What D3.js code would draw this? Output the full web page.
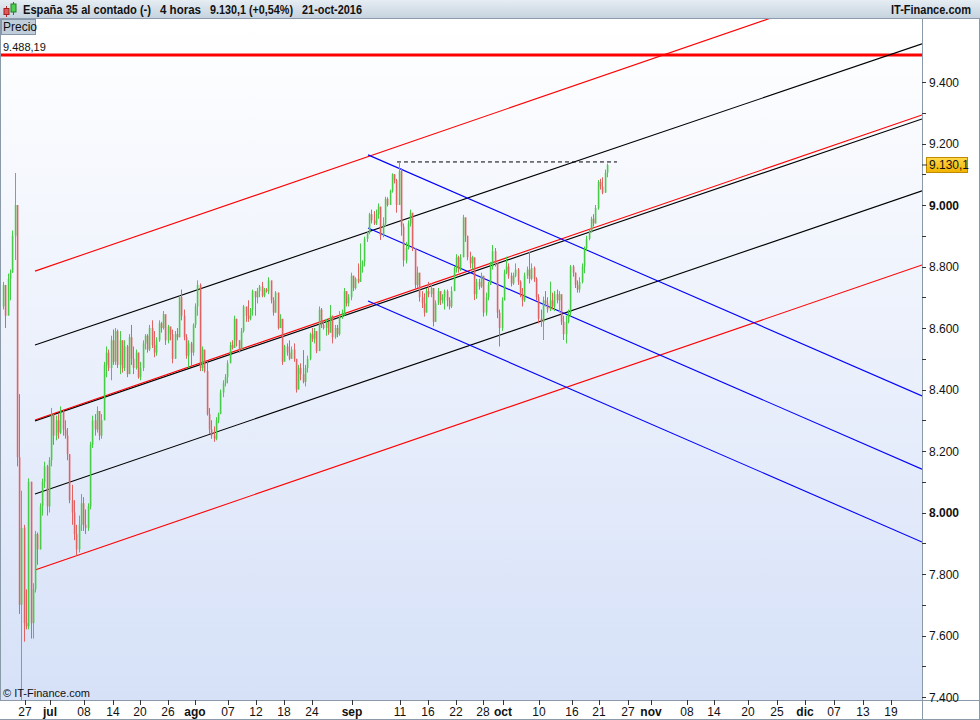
<!DOCTYPE html>
<html><head><meta charset="utf-8">
<script src="https://cdn.jsdelivr.net/npm/d3@7"></script>
<style>html,body{margin:0;padding:0;background:#fff;}svg{display:block;}</style>
</head><body>
<script>
// ---- data (4-hour candles, 22-jun-2016 .. 21-oct-2016), open = previous close ----
const firstOpen = 8670;
const closes = [8740,8640,8760,8780,8900,9000,8180,7700,7950,7640,7630,8100,7640,7750,7930,7880,8020,8100,8150,8020,
8170,8320,8250,8300,8260,8330,8270,8250,8190,8040,8000,7930,7880,7960,8030,7960,7950,8020,8220,8300,
8270,8330,8250,8300,8480,8520,8470,8560,8490,8590,8480,8560,8470,8540,8450,8570,8500,8470,8520,8440,
8470,8550,8575,8530,8600,8545,8520,8560,8615,8600,8645,8560,8605,8580,8500,8580,8570,8700,8640,8570,
8510,8550,8520,8610,8670,8740,8470,8530,8460,8320,8270,8250,8240,8300,8320,8390,8420,8440,8485,8545,
8535,8630,8560,8530,8590,8670,8640,8630,8660,8720,8700,8720,8735,8705,8725,8720,8755,8690,8650,8715,
8600,8630,8490,8540,8520,8500,8530,8500,8400,8470,8450,8425,8470,8500,8580,8565,8590,8525,8660,8610,
8600,8620,8585,8640,8570,8600,8580,8640,8650,8720,8680,8700,8770,8730,8760,8750,8800,8815,8890,8910,
8970,8950,8940,8970,8995,8900,8940,9020,9000,9045,9100,9080,9000,9110,8930,8820,8860,8940,8975,8860,
8740,8780,8700,8680,8650,8720,8710,8730,8620,8680,8720,8690,8700,8720,8690,8670,8720,8795,8830,8790,
8830,8960,8900,8830,8810,8830,8710,8750,8735,8770,8650,8700,8740,8800,8850,8810,8650,8600,8690,8780,
8800,8770,8745,8770,8790,8750,8710,8690,8770,8790,8760,8795,8760,8700,8630,8620,8690,8680,8660,8690,
8670,8710,8690,8710,8620,8580,8620,8650,8800,8780,8740,8725,8750,8800,8860,8890,8915,8955,8940,8990,
9075,9060,9040,9105,9130.1];
const highs = [8750,8740,8777,8790,8917,9104,8990,8385,8071,7960,7750,8111,8100,7770,7940,7935,8030,8110,8165,8155,
8180,8340,8320,8315,8320,8345,8335,8300,8275,8180,8090,8040,7960,7990,8060,8050,8010,8030,8230,8315,
8320,8345,8330,8320,8490,8540,8530,8575,8595,8600,8595,8590,8560,8560,8545,8580,8610,8540,8530,8520,
8490,8560,8580,8580,8610,8625,8590,8570,8625,8620,8655,8640,8610,8600,8595,8590,8600,8705,8725,8660,
8580,8560,8555,8615,8680,8755,8745,8540,8520,8490,8340,8300,8280,8310,8325,8400,8430,8450,8495,8555,
8560,8640,8610,8560,8600,8675,8665,8690,8665,8725,8715,8730,8740,8750,8730,8730,8765,8745,8700,8720,
8715,8645,8580,8545,8550,8560,8540,8550,8490,8480,8485,8528,8480,8510,8585,8600,8600,8585,8670,8665,
8625,8630,8620,8675,8640,8610,8610,8655,8660,8730,8715,8710,8780,8770,8765,8810,8875,8820,8897,8915,
8975,8985,8980,8985,9005,8990,8960,9027,9025,9050,9103,9100,9085,9140,9120,8940,8880,8950,8985,8960,
8860,8800,8775,8720,8713,8730,8750,8745,8730,8690,8730,8710,8710,8725,8725,8700,8735,8800,8840,8835,
8840,8968,8955,8900,8848,8835,8800,8760,8760,8780,8767,8715,8750,8815,8870,8860,8810,8660,8700,8790,
8832,8810,8780,8780,8810,8795,8755,8730,8780,8800,8848,8810,8800,8765,8710,8660,8702,8720,8700,8751,
8715,8720,8725,8720,8680,8640,8640,8660,8805,8805,8780,8755,8765,8810,8865,8900,8920,8962,8970,9000,
9081,9085,9090,9115,9135];
const lows = [8660,8600,8660,8690,8780,8821,8150,7670,7350,7580,7620,7620,7590,7590,7740,7830,7880,7990,8080,7990,
8000,8150,8220,8235,8240,8255,8250,8240,8170,8030,7960,7910,7860,7870,7940,7940,7930,7940,8010,8210,
8250,8260,8235,8240,8300,8440,8460,8430,8480,8480,8470,8450,8455,8460,8440,8450,8480,8450,8465,8435,
8430,8460,8530,8520,8525,8535,8505,8510,8555,8585,8595,8545,8550,8560,8485,8500,8560,8570,8625,8560,
8500,8470,8475,8510,8600,8640,8460,8460,8455,8315,8255,8240,8230,8235,8290,8320,8375,8410,8420,8490,
8530,8540,8540,8520,8530,8585,8620,8620,8625,8640,8640,8680,8700,8700,8700,8715,8710,8680,8640,8650,
8595,8600,8480,8495,8510,8495,8500,8490,8390,8400,8430,8420,8410,8455,8495,8555,8550,8518,8525,8600,
8595,8575,8578,8585,8550,8565,8570,8575,8630,8640,8670,8670,8690,8720,8725,8745,8750,8780,8800,8880,
8905,8940,8935,8935,8955,8886,8895,8930,8995,9000,9040,9070,8975,9000,8900,8800,8810,8855,8930,8850,
8724,8730,8686,8665,8637,8650,8700,8700,8605,8620,8675,8675,8680,8660,8670,8660,8665,8720,8780,8780,
8785,8830,8880,8820,8794,8790,8691,8695,8725,8730,8637,8640,8690,8740,8790,8800,8632,8540,8590,8690,
8775,8760,8735,8740,8765,8740,8700,8670,8685,8760,8745,8755,8750,8690,8615,8604,8561,8670,8650,8655,
8660,8655,8680,8650,8610,8561,8550,8615,8637,8767,8730,8715,8715,8745,8778,8850,8885,8910,8930,8940,
8985,9050,9035,9040,9090];

// x axis: trading-day units (0 = 1-jul-2016), tick labels
const tickLabels = ["27","jul","08","14","20","26","ago","07","12","18","24","sep","11","16","22","28","oct","10","16","21","27","nov","08","14","20","25","dic","07","13","19"];
const tickDays   = [-3.64,0,4.96,9.18,13.12,17.2,21.14,25.95,30.03,34.11,38.19,44.02,51.02,55.1,59.18,63.12,66.03,71.28,76.09,80.03,84.26,87.61,92.86,96.79,101.75,105.98,110.06,114.29,118.51,122.59];
const monthLabels = ["jul","ago","sep","oct","nov","dic"];

// drawn studies: [day0, value0, day1, value1]
const channelRed   = [[-2.187,8785,127.11,9777],[-2.187,8301,127.11,9293],[-2.187,7813,127.11,8805]];
const channelBlack = [[-2.187,8545,127.11,9524],[-2.187,8298,127.11,9280],[-2.187,8060,127.11,9046]];
const channelBlue  = [[46.36,9163,127.11,8379],[46.36,8925,127.11,8141],[46.36,8688,127.11,7904]];
const maxLine = [50.58, 9140, 82.65];
const resistance = 9488.19;
const lastPrice = 9130.1;

// header texts: [text, x, width]
const headerTexts = [["España 35 al contado (-)",23,128],["4 horas",160,41],["9.130,1 (+0,54%)",210,83],["21-oct-2016",302,60]];

// ---- drawing ----
const W = 980, H = 720;
const plot = {left:0, right:922, top:19, bottom:700};
const locale = d3.formatLocale({decimal:",", thousands:".", grouping:[3], currency:["",""]});
const fmt0 = locale.format(",.0f"), fmt1 = locale.format(",.1f"), fmt2 = locale.format(",.2f");

const x = d3.scaleLinear().domain([-7.289, 127.11]).range([plot.left, plot.right]);
const y = d3.scaleLinear().domain([7400, 9400]).range([697, 82]);
const dayOf = i => i/3 - 7 + 1/6;

const svg = d3.select("body").append("svg").attr("width", W).attr("height", H)
  .style("font-family", "'Liberation Sans', Arial, sans-serif");
const defs = svg.append("defs");
const bg = defs.append("linearGradient").attr("id","bg").attr("x1",0).attr("y1",0).attr("x2",0).attr("y2",1);
bg.append("stop").attr("offset","0%").attr("stop-color","#ffffff");
bg.append("stop").attr("offset","100%").attr("stop-color","#d6e1f8");
const hg = defs.append("linearGradient").attr("id","hg").attr("x1",0).attr("y1",0).attr("x2",0).attr("y2",1);
hg.append("stop").attr("offset","0%").attr("stop-color","#e6edf3");
hg.append("stop").attr("offset","100%").attr("stop-color","#c6d3df");
const pg = defs.append("linearGradient").attr("id","pg").attr("x1",0).attr("y1",0).attr("x2",0).attr("y2",1);
pg.append("stop").attr("offset","0%").attr("stop-color","#ffd84a");
pg.append("stop").attr("offset","100%").attr("stop-color","#f0b400");
defs.append("clipPath").attr("id","clip").append("rect")
  .attr("x",plot.left).attr("y",plot.top).attr("width",plot.right-plot.left).attr("height",plot.bottom-plot.top);

svg.append("rect").attr("width",W).attr("height",H).attr("fill","#fff");
svg.append("rect").attr("x",plot.left).attr("y",plot.top).attr("width",plot.right-plot.left)
  .attr("height",plot.bottom-plot.top).attr("fill","url(#bg)");

// header
svg.append("rect").attr("x",0).attr("y",0).attr("width",W).attr("height",18).attr("fill","url(#hg)");
svg.append("line").attr("x1",0).attr("x2",W).attr("y1",18.5).attr("y2",18.5).attr("stroke","#8c9cac");
const ic = svg.append("g");
ic.append("line").attr("x1",6.5).attr("x2",6.5).attr("y1",6).attr("y2",17).attr("stroke","#b03030");
ic.append("rect").attr("x",4).attr("y",8.5).attr("width",5).attr("height",6).attr("fill","#e05858").attr("stroke","#a02020");
ic.append("line").attr("x1",13.5).attr("x2",13.5).attr("y1",2).attr("y2",15).attr("stroke","#208020");
ic.append("rect").attr("x",11).attr("y",4).attr("width",5).attr("height",8).attr("fill","#50d050").attr("stroke","#208020");
const ht = svg.append("g").attr("font-size",12).attr("font-weight","bold").attr("fill","#111");
ht.selectAll("text").data(headerTexts).enter().append("text")
  .attr("x",d=>d[1]).attr("y",14).attr("textLength",d=>d[2]).attr("lengthAdjust","spacingAndGlyphs").text(d=>d[0]);
ht.append("text").attr("x",891).attr("y",14).attr("textLength",80).attr("lengthAdjust","spacingAndGlyphs").text("IT-Finance.com");

// "Precio" tab
svg.append("rect").attr("x",1.5).attr("y",19.5).attr("width",34).attr("height",15).attr("fill","#c0cedb").attr("stroke","#8596a8");
svg.append("text").attr("x",3).attr("y",31).attr("font-size",12).attr("fill","#111").text("Precio");

const g = svg.append("g").attr("clip-path","url(#clip)");

// resistance line
g.append("line").attr("x1",plot.left).attr("x2",plot.right).attr("y1",y(resistance)).attr("y2",y(resistance))
  .attr("stroke","#ff0000").attr("stroke-width",3);
svg.append("text").attr("x",3).attr("y",y(resistance)-4).attr("font-size",11).attr("fill","#111").text(fmt2(resistance));

// channels
const seg = (sel, data, color, w) => sel.selectAll(null).data(data).enter().append("line")
  .attr("x1",d=>x(d[0])).attr("y1",d=>y(d[1])).attr("x2",d=>x(d[2])).attr("y2",d=>y(d[3]))
  .attr("stroke",color).attr("stroke-width",w);
seg(g, channelBlack, "#000000", 1.1);
seg(g, channelRed, "#ff0000", 1.1);
seg(g, channelBlue, "#0000ff", 1.1);

// dashed max line
g.append("line").attr("x1",x(maxLine[0])).attr("x2",x(maxLine[2])).attr("y1",y(maxLine[1])).attr("y2",y(maxLine[1]))
  .attr("stroke","#000").attr("stroke-width",1).attr("stroke-dasharray","4,3");

// candles
const candles = closes.map((c,i)=>({i, o: i===0?firstOpen:closes[i-1], h: highs[i], l: lows[i], c}));
const up = "#46cc46", dn = "#e06262";
const cg = g.append("g");
cg.selectAll("line.w").data(candles).enter().append("line")
  .attr("x1",d=>Math.round(x(dayOf(d.i)))+0.5).attr("x2",d=>Math.round(x(dayOf(d.i)))+0.5)
  .attr("y1",d=>y(d.h)).attr("y2",d=>y(d.l))
  .attr("stroke",d=>d.c>=d.o?up:dn).attr("stroke-width",1);
cg.selectAll("rect.b").data(candles).enter().append("rect")
  .attr("x",d=>Math.round(x(dayOf(d.i)))-0.2).attr("width",1.6)
  .attr("y",d=>y(Math.max(d.o,d.c))).attr("height",d=>Math.max(1,Math.abs(y(d.o)-y(d.c))))
  .attr("fill",d=>d.c>=d.o?up:dn);

// frame
svg.append("line").attr("x1",0.5).attr("x2",0.5).attr("y1",19).attr("y2",700).attr("stroke","#8a9aa8");
svg.append("line").attr("x1",plot.right+0.5).attr("x2",plot.right+0.5).attr("y1",19).attr("y2",720).attr("stroke","#8a9aa8");
svg.append("line").attr("x1",0).attr("x2",W).attr("y1",plot.bottom+0.5).attr("y2",plot.bottom+0.5).attr("stroke","#8a9aa8");
svg.append("line").attr("x1",0).attr("x2",W).attr("y1",H-0.5).attr("y2",H-0.5).attr("stroke","#8a9aa8");
svg.append("line").attr("x1",W-0.5).attr("x2",W-0.5).attr("y1",19).attr("y2",H).attr("stroke","#8a9aa8");

// y axis (right)
const ya = svg.append("g");
ya.selectAll("line.t").data(y.ticks(20)).enter().append("line")
  .attr("x1",plot.right).attr("x2",plot.right+4).attr("y1",d=>Math.round(y(d))+0.5).attr("y2",d=>Math.round(y(d))+0.5)
  .attr("stroke","#333");
ya.selectAll("text").data(y.ticks(10)).enter().append("text")
  .attr("x",plot.right+7).attr("y",d=>y(d)+4.5).attr("font-size",12)
  .attr("font-weight",d=>d%1000===0?"bold":"normal").attr("fill","#111").text(d=>fmt0(d));
ya.append("rect").attr("x",plot.right+4.5).attr("y",y(lastPrice)-7.5).attr("width",41).attr("height",15)
  .attr("fill","url(#pg)").attr("stroke","#c08a00");
ya.append("line").attr("x1",plot.right).attr("x2",plot.right+5).attr("y1",y(lastPrice)).attr("y2",y(lastPrice)).attr("stroke","#333");
ya.append("text").attr("x",plot.right+7).attr("y",y(lastPrice)+4.5).attr("font-size",12).attr("fill","#111").text(fmt1(lastPrice));

// x axis (bottom)
const xa = svg.append("g");
xa.selectAll("line").data(tickDays).enter().append("line")
  .attr("x1",d=>Math.round(x(d))+0.5).attr("x2",d=>Math.round(x(d))+0.5).attr("y1",plot.bottom).attr("y2",plot.bottom+5)
  .attr("stroke","#333");
xa.selectAll("text").data(tickLabels).enter().append("text")
  .attr("x",(d,i)=>x(tickDays[i])).attr("y",716).attr("text-anchor","middle").attr("font-size",12)
  .attr("font-weight",d=>monthLabels.includes(d)?"bold":"normal").attr("fill","#111").text(d=>d);

svg.append("text").attr("x",3).attr("y",697).attr("font-size",11).attr("fill","#111").text("© IT-Finance.com");
</script>
</body></html>
